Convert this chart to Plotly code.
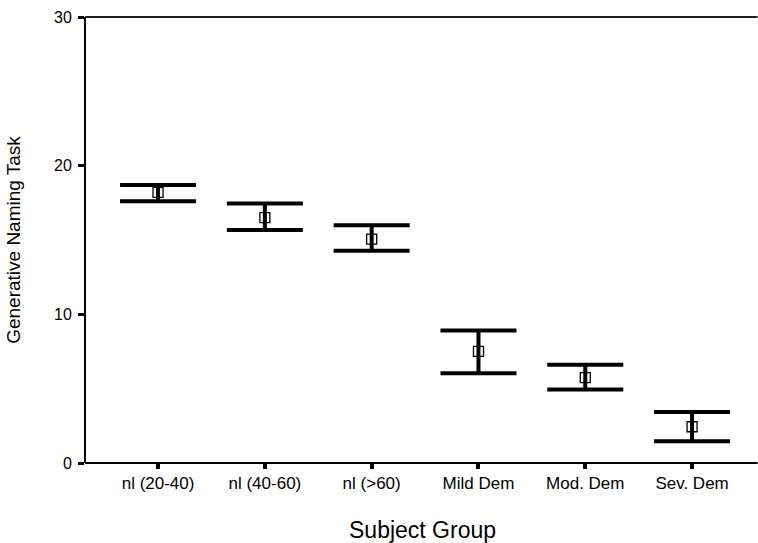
import plotly.graph_objects as go

categories = ["nl (20-40)", "nl (40-60)", "nl (>60)", "Mild Dem", "Mod. Dem", "Sev. Dem"]
means = [18.2, 16.5, 15.06, 7.51, 5.74, 2.44]
upper = [18.7, 17.45, 16.0, 8.92, 6.61, 3.43]
lower = [17.6, 15.67, 14.28, 6.03, 4.95, 1.46]
y_ticks = [0, 10, 20, 30]

err_plus = [u - m for u, m in zip(upper, means)]
err_minus = [m - l for m, l in zip(means, lower)]
xs = list(range(len(categories)))

fig = go.Figure()
fig.add_trace(go.Scatter(
    x=xs, y=means, mode="markers",
    marker=dict(symbol="square-open", size=10, color="black", line=dict(width=1.3, color="black")),
    error_y=dict(type="data", symmetric=False, array=err_plus, arrayminus=err_minus,
                 color="black", thickness=4, width=38),
    showlegend=False, hoverinfo="skip", cliponaxis=False,
))

font_family = "Liberation Sans, Arial, sans-serif"
fig.update_layout(
    width=758, height=543,
    margin=dict(l=85, r=20, t=17, b=80, autoexpand=False),
    paper_bgcolor="white", plot_bgcolor="rgba(0,0,0,0)",
    font=dict(family=font_family, color="black"),
    xaxis=dict(
        range=[-0.684, 5.43], tickvals=xs, ticktext=categories,
        showgrid=False, zeroline=False, showline=False, automargin=False,
        ticks="outside", ticklen=5, tickwidth=4, tickcolor="black",
        tickfont=dict(size=17, family=font_family),
    ),
    yaxis=dict(
        range=[0, 30], tickvals=y_ticks,
        showgrid=False, zeroline=False, showline=False, automargin=False,
        ticks="outside", ticklen=6, tickwidth=3, tickcolor="black",
        tickfont=dict(size=16, family=font_family),
        ticklabelstandoff=3,
        title=dict(text="Generative Naming Task", font=dict(size=19, family=font_family), standoff=28),
    ),
    annotations=[
        dict(text="Subject Group", xref="paper", yref="paper", x=0.5176, y=-0.150,
             xanchor="center", yanchor="middle", showarrow=False,
             font=dict(size=23, family=font_family, color="black")),
    ],
    shapes=[
        dict(type="line", xref="paper", yref="paper", x0=0, x1=1.03, y0=1, y1=1,
             line=dict(color="#222", width=2)),
        dict(type="line", xref="paper", yref="paper", x0=0, x1=1.03, y0=0, y1=0,
             line=dict(color="black", width=2)),
        dict(type="line", xref="paper", yref="paper", x0=0, x1=0, y0=0, y1=1,
             line=dict(color="black", width=2)),
    ],
)

fig.write_html("out.html")
